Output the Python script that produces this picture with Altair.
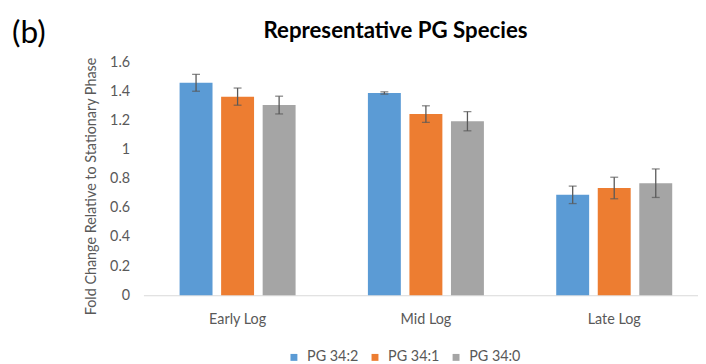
import altair as alt
import pandas as pd

phases = ["Early Log", "Mid Log", "Late Log"]
species = ["PG 34:2", "PG 34:1", "PG 34:0"]
pg342 = [1.46, 1.39, 0.69]
pg341 = [1.365, 1.245, 0.737]
pg340 = [1.307, 1.196, 0.77]
err342 = [0.058, 0.008, 0.060]
err341 = [0.059, 0.057, 0.074]
err340 = [0.061, 0.066, 0.098]
colors = ["#5B9BD5", "#ED7D31", "#A5A5A5"]
y_ticks = [0, 0.2, 0.4, 0.6, 0.8, 1.0, 1.2, 1.4, 1.6]

rows = []
for sp, vals, errs in zip(species, [pg342, pg341, pg340], [err342, err341, err340]):
    for ph, v, e in zip(phases, vals, errs):
        rows.append({"phase": ph, "species": sp, "value": v, "low": v - e, "high": v + e})
df = pd.DataFrame(rows)

FONT = "Lato"
GRAY = "#595959"

x_enc = alt.X(
    "phase:N",
    sort=phases,
    scale=alt.Scale(paddingInner=0.384, paddingOuter=0.192, range=[0, 571.5]),
    axis=alt.Axis(
        title=None, labelAngle=0, ticks=False, tickSize=0, labelPadding=18,
        domainColor="#D9D9D9", domainWidth=1, labelColor=GRAY, labelFontSize=14.5,
        labelFont=FONT, grid=False,
    ),
)
xo_enc = alt.XOffset("species:N", sort=species, scale=alt.Scale(paddingInner=0.207, paddingOuter=0))

y_axis = alt.Axis(
    title="Fold Change Relative to Stationary Phase",
    values=y_ticks, format=".1~f", domain=False, ticks=False, tickSize=0,
    labelPadding=14, labelColor=GRAY, labelFont=FONT, labelFontSize=14.5, grid=False,
    titleFont=FONT, titleFontSize=14.5, titleFontWeight="normal", titleColor=GRAY,
    titleX=-52, titleY=125, titleAngle=270, titleAlign="center", titleBaseline="middle",
)
y_scale = alt.Scale(domain=[0, 1.6], nice=False)

base = alt.Chart(df)

bars = base.mark_bar().encode(
    x=x_enc,
    xOffset=xo_enc,
    y=alt.Y("value:Q", scale=y_scale, axis=y_axis),
    color=alt.Color(
        "species:N", sort=species,
        scale=alt.Scale(domain=species, range=colors),
        legend=alt.Legend(
            title=None, orient="none", legendX=145, legendY=291, direction="horizontal",
            columns=3, symbolType="square", symbolSize=49, symbolStrokeWidth=0,
            labelFont=FONT, labelFontSize=14.5, labelColor=GRAY, columnPadding=9,
            labelOffset=6, padding=0,
        ),
    ),
)

rules = base.mark_rule(color=GRAY, strokeWidth=1.3).encode(
    x=x_enc, xOffset=xo_enc,
    y=alt.Y("low:Q", scale=y_scale, axis=y_axis), y2="high:Q",
)
caps_low = base.mark_tick(color=GRAY, thickness=1.3, size=8).encode(
    x=x_enc, xOffset=xo_enc, y=alt.Y("low:Q", scale=y_scale, axis=y_axis),
)
caps_high = base.mark_tick(color=GRAY, thickness=1.3, size=8).encode(
    x=x_enc, xOffset=xo_enc, y=alt.Y("high:Q", scale=y_scale, axis=y_axis),
)

panel = alt.Chart(pd.DataFrame({"t": ["(b)"]})).mark_text(
    font=FONT, fontSize=32, color="black", align="left", baseline="alphabetic"
).encode(text="t:N", x=alt.value(-133), y=alt.value(-20))

title = alt.Chart(pd.DataFrame({"t": ["Representative PG Species"]})).mark_text(
    font=FONT, fontSize=22.5, fontWeight="bold", color="black", align="center", baseline="alphabetic"
).encode(text="t:N", x=alt.value(255), y=alt.value(-24.5))

chart = alt.layer(bars, rules, caps_low, caps_high, panel, title).properties(
    width=553,
    height=235.5,
    autosize=alt.AutoSizeParams(type="none"),
    padding={"left": 137, "top": 53, "right": 8, "bottom": 67.5},
).configure(background="white").configure_view(stroke=None)

chart.save("out.html", embed_options={"renderer": "svg", "actions": False})
